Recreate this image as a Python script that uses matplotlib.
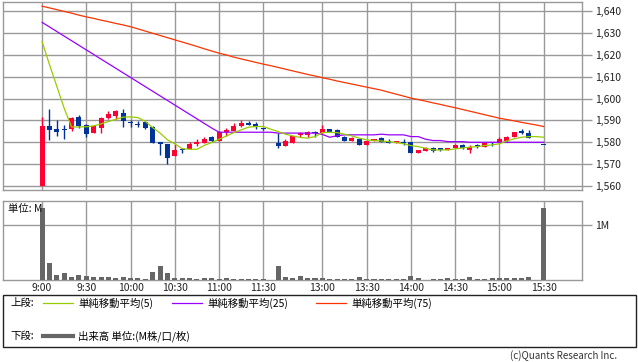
import numpy as np
import matplotlib
matplotlib.use("Agg")
import matplotlib.pyplot as plt
from matplotlib.lines import Line2D
from matplotlib.patches import Rectangle

plt.rcParams['font.family'] = ['Noto Sans CJK JP', 'DejaVu Sans']

nan = np.nan
# 5-minute bars, index 0 = 9:00 (31 and 67 have no trades)
opens = [1560, 1587.5, 1586.3, 1585.8, 1586, 1591.7, 1588.1, 1584.4, 1586.7, 1591.3,
         1592, 1593.3, 1589, 1587.9, 1589.2, 1587.2, 1580.2, 1579, 1573.9, 1576.7,
         1577.1, 1579.4, 1579.9, 1582.2, 1580.8, 1584.7, 1585.3, 1587.5, 1588.7, 1588.3,
         1586, nan, 1579.6, 1578.5, 1579.9, 1583.2, 1583.5, 1584.4, 1584.2, 1586,
         1585.7, 1582.6, 1580.8, 1581.4, 1578.8, 1580.4, 1582, 1580.8, 1579.6, 1580.3,
         1580, 1575, 1575.9, 1577.2, 1577.2, 1576.5, 1577.6, 1578.8, 1576.5, 1578.8,
         1578, 1580.3, 1579.6, 1580.8, 1582.3, 1585.3, 1584.2, nan, 1578.8]
highs = [1591.7, 1595.3, 1590, 1588, 1591.7, 1592.5, 1588.4, 1588, 1591.7, 1594.3,
         1594.7, 1595.3, 1590, 1589.5, 1589.5, 1587.5, 1580.2, 1579, 1579.1, 1577.3,
         1580, 1581.7, 1582.5, 1582.7, 1585.3, 1586.4, 1588.7, 1590.2, 1589.5, 1589.2,
         1586.5, nan, 1584.2, 1581.4, 1582.9, 1584.9, 1585.3, 1585.2, 1587.9, 1586.3,
         1586, 1582.9, 1582.2, 1581.4, 1580.8, 1581.4, 1582.3, 1581.6, 1580.6, 1581.4,
         1580, 1576.5, 1577.9, 1577.9, 1577.5, 1577.6, 1579.4, 1579.4, 1578.8, 1579.4,
         1579.9, 1580.3, 1582.3, 1582.9, 1584.9, 1585.9, 1585.6, nan, 1578.8]
lows = [1560, 1581.2, 1583, 1581.7, 1585, 1586.7, 1582.3, 1584.4, 1584.4, 1590.7,
        1590.7, 1587.2, 1587.2, 1586.9, 1586.3, 1579.9, 1574, 1570.3, 1573.9, 1575.1,
        1577.1, 1578.2, 1579.9, 1580, 1580.6, 1582.9, 1585.3, 1587.2, 1587.8, 1586,
        1585.5, nan, 1577.6, 1578.5, 1579.9, 1582.6, 1582.6, 1582.3, 1584.2, 1584.9,
        1582.3, 1580.8, 1580.8, 1578.8, 1578.8, 1580.4, 1580.3, 1579.6, 1579.6, 1578.8,
        1575, 1575, 1575.9, 1575.6, 1576, 1576.5, 1577.6, 1577, 1575.3, 1577.6,
        1578, 1578.1, 1579.6, 1580.2, 1582.3, 1583.9, 1581.9, nan, 1578.8]
closes = [1587.5, 1585.8, 1584.9, 1585.8, 1591.1, 1587.5, 1584.0, 1587.5, 1591.3, 1593,
          1594.3, 1589.5, 1589, 1587.9, 1586.7, 1579.9, 1579, 1572.6, 1576.5, 1576.7,
          1579.3, 1580.3, 1581.6, 1580.8, 1584.8, 1585.7, 1587.6, 1588.7, 1587.8, 1587.2,
          1586, nan, 1578.5, 1580.6, 1582.9, 1584.4, 1584.6, 1584.4, 1586, 1584.9,
          1582.3, 1580.8, 1581.9, 1578.8, 1580.8, 1581.4, 1580.3, 1579.6, 1580.6, 1579.6,
          1575, 1576.5, 1577.2, 1575.9, 1576.5, 1577.6, 1578.8, 1577.6, 1578, 1578.1,
          1579.9, 1579.6, 1581.4, 1582.3, 1584.9, 1584.2, 1581.9, nan, 1578.8]
volume = [1.30, 0.315, 0.09, 0.13, 0.06, 0.09, 0.08, 0.05, 0.06, 0.06,
          0.04, 0.06, 0.04, 0.04, 0.025, 0.15, 0.26, 0.13, 0.04, 0.04,
          0.04, 0.025, 0.04, 0.04, 0.025, 0.04, 0.025, 0.025, 0.025, 0.025,
          0.01, 0, 0.26, 0.06, 0.04, 0.08, 0.04, 0.04, 0.04, 0.025,
          0.025, 0.025, 0.025, 0.06, 0.025, 0.01, 0.015, 0.015, 0.015, 0.015,
          0.07, 0.04, 0.005, 0.025, 0.025, 0.04, 0.025, 0.025, 0.06, 0.025,
          0.025, 0.04, 0.04, 0.04, 0.04, 0.04, 0.06, 0, 1.31]
ma5 = [1626, 1615.5, 1605.5, 1595.5, 1587, 1587, 1587.1, 1587.5, 1588.4, 1589.5,
       1590.5, 1591.5, 1591.6, 1591.3, 1589.5, 1586.7, 1584.2, 1581.1, 1579.3, 1577.1,
       1576.8, 1576.8, 1578.6, 1579.9, 1581.4, 1582.9, 1584.4, 1585.7, 1586.9, 1587.2,
       1587.2, 1586, 1584.9, 1583.7, 1582.9, 1582.2, 1581.9, 1582.6, 1584.4, 1584.6,
       1584.4, 1583.7, 1582.9, 1581.9, 1581.1, 1580.8, 1580.6, 1580.3, 1579.9, 1579.3,
       1578.5, 1578, 1577.3, 1576.5, 1576.5, 1576.5, 1577, 1577.4, 1577.8, 1578,
       1578.5, 1578.8, 1579.3, 1580.6, 1581.6, 1582.3, 1582.6, 1582.6, 1582.3]
ma25 = [1634.8, 1632.7, 1630.6, 1628.5, 1626.4, 1624.3, 1622.2, 1620.1, 1618.0, 1615.9,
        1613.8, 1611.7, 1609.6, 1607.5, 1605.4, 1603.3, 1601.2, 1599.1, 1597.0, 1594.9,
        1592.8, 1590.7, 1588.6, 1586.5, 1584.6, 1584.6, 1584.6, 1584.6, 1584.6, 1584.6,
        1584.6, 1584.6, 1584.2, 1584.2, 1584.2, 1584.2, 1584.2, 1584.2, 1583.6, 1582.3,
        1583.0, 1583.4, 1583.4, 1583.4, 1583.4, 1583.4, 1583.7, 1583.4, 1583.4, 1583.4,
        1582.6, 1582.6, 1581.4, 1580.8, 1580.8, 1580.3, 1580.3, 1580.3, 1580.0, 1580.0,
        1580.0, 1580.0, 1580.0, 1580.0, 1580.0, 1580.0, 1580.0, 1580.0, 1580.0]
ma75 = [1642.2, 1641.4, 1640.6, 1639.8, 1639.0, 1638.1, 1637.3, 1636.6, 1635.8, 1635.1,
        1634.3, 1633.6, 1632.8, 1631.8, 1630.8, 1629.8, 1628.8, 1627.8, 1626.8, 1625.8,
        1624.8, 1623.8, 1622.7, 1621.7, 1620.7, 1619.9, 1618.9, 1618.1, 1617.3, 1616.5,
        1615.7, 1615.0, 1614.2, 1613.4, 1612.6, 1611.8, 1611.0, 1610.3, 1609.5, 1608.8,
        1608.0, 1607.3, 1606.6, 1605.9, 1605.2, 1604.5, 1603.8, 1602.9, 1602.0, 1601.1,
        1600.2, 1599.5, 1598.8, 1598.0, 1597.3, 1596.5, 1595.8, 1595.0, 1594.2, 1593.4,
        1592.6, 1591.8, 1591.0, 1590.4, 1589.8, 1589.1, 1588.5, 1587.9, 1587.2]
tick_pos = [0, 6, 12, 18, 24, 30, 38, 44, 50, 56, 62, 68]
tick_lab = ['9:00', '9:30', '10:00', '10:30', '11:00', '11:30',
            '13:00', '13:30', '14:00', '14:30', '15:00', '15:30']
price_ticks = [1560, 1570, 1580, 1590, 1600, 1610, 1620, 1630, 1640]

UP = '#ff0033'
DOWN = '#003399'
GRID = '#999999'

W, H = 638, 362
fig = plt.figure(figsize=(W / 100, H / 100), dpi=100)
ax1 = fig.add_axes([3 / W, 1 - 190 / H, 579 / W, 188 / H])
ax2 = fig.add_axes([3 / W, 1 - 280 / H, 579 / W, 79 / H])

x = np.arange(len(closes))
o = np.array(opens); c = np.array(closes)
hi = np.array(highs); lo = np.array(lows)
ok = ~np.isnan(c)
up = ok & (c > o)
dn = ok & (c <= o)

# wicks
ax1.vlines(x[ok], lo[ok], hi[ok], colors=np.where(up[ok], UP, DOWN), lw=1, zorder=3)
# bodies
body_lo = np.minimum(o, c)
body_h = np.maximum(np.abs(c - o), 0.45)
ax1.bar(x[up], body_h[up], bottom=body_lo[up], width=0.68, color=UP, zorder=4)
ax1.bar(x[dn], body_h[dn], bottom=body_lo[dn], width=0.68, color=DOWN, zorder=4)

ax1.plot(x, ma75, color='#ff3300', lw=0.9, zorder=5)
ax1.plot(x, ma25, color='#9900ff', lw=0.9, zorder=5)
ax1.plot(x, ma5, color='#99cc00', lw=0.9, zorder=5)

ax2.bar(x, volume, width=0.68, color='#666666', zorder=3)

for ax in (ax1, ax2):
    ax.set_xlim(-5.3, 73.2)
    ax.set_xticks(tick_pos)
    ax.grid(True, color=GRID, lw=1, zorder=0)
    ax.set_axisbelow(True)
    for s in ax.spines.values():
        s.set_color(GRID)
        s.set_linewidth(1)
    ax.yaxis.tick_right()
    ax.tick_params(axis='y', length=7.5, color=GRID, width=1, labelsize=7.5,
                   pad=2, labelcolor='#222222')
    ax.tick_params(axis='x', length=0)

ax1.set_ylim(1558.2, 1644.1)
ax1.set_yticks(price_ticks)
ax1.set_yticklabels(['{:,}'.format(v) for v in price_ticks])
ax1.set_xticklabels([])

ax2.set_ylim(0, 1.436)
ax2.set_yticks([1.0])
ax2.set_yticklabels(['1M'])
ax2.set_xticklabels(tick_lab, fontsize=7.5, color='#222222')
ax2.tick_params(axis='x', pad=2)
fig.text(8 / W, 1 - 209 / H, '単位: M', fontsize=7.5,
         va='center', ha='left', color='#111111')

# legend box
fig.patches.append(Rectangle((3 / W, 1 - 347 / H), 633 / W, 52 / H, fill=False,
                             edgecolor='#222222', lw=1, transform=fig.transFigure))
y1 = 1 - 303 / H
y2 = 1 - 336 / H
fs = 7.5
fig.text(10 / W, y1, '上段:', fontsize=fs, va='center')
fig.text(10 / W, y2, '下段:', fontsize=fs, va='center')
legend_items = [(43, '#99cc00', '単純移動平均(5)'),
                (172, '#9900ff', '単純移動平均(25)'),
                (316, '#ff3300', '単純移動平均(75)')]
for lx, col, lab in legend_items:
    fig.add_artist(Line2D([lx / W, (lx + 30) / W], [y1, y1], color=col, lw=0.9,
                          transform=fig.transFigure))
    fig.text((lx + 35) / W, y1, lab, fontsize=fs, va='center')
fig.add_artist(Line2D([43 / W, 73 / W], [y2, y2], color='#666666', lw=3,
                      transform=fig.transFigure))
fig.text(78 / W, y2, '出来高 単位:(M株/口/枚)', fontsize=fs, va='center')

fig.text(617 / W, 1 - 356 / H, '(c)Quants Research Inc.', fontsize=7,
         ha='right', va='center', color='#333333')

fig.savefig('out.png', dpi=100)
